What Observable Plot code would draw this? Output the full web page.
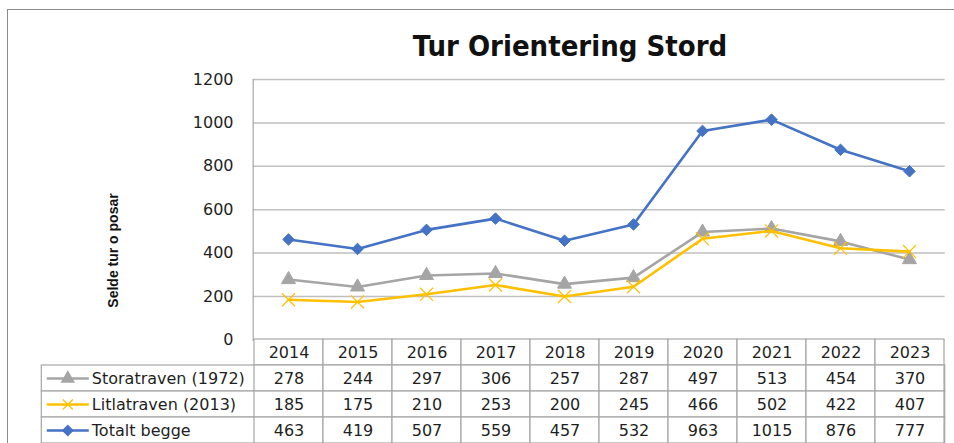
<!DOCTYPE html>
<html>
<head>
<meta charset="utf-8">
<script src="https://cdn.jsdelivr.net/npm/d3@7"></script>
<script src="https://cdn.jsdelivr.net/npm/@observablehq/plot@0.6"></script>
<style>
  html, body { margin: 0; padding: 0; background: white; }
  #wrap { position: relative; width: 954px; height: 443px; overflow: hidden; background: white; }
  #border { position: absolute; left: 7px; top: 9px; width: 1000px; height: 500px;
            border-top: 1.5px solid #8c8c8c; border-left: 1.5px solid #8c8c8c; }
  #title { position: absolute; left: 0; width: 1140px; top: 29px; text-align: center;
           font-family: "Liberation Sans Narrow", "DejaVu Sans Condensed", sans-serif; font-weight: bold;
           font-size: 29px; color: #111; white-space: nowrap; }
  .layer { position: absolute; left: 0; top: 0; }
</style>
</head>
<body>
<div id="wrap">
  <div id="border"></div>
  <div id="title">Tur Orientering Stord</div>
</div>
<script>
const years = ["2014","2015","2016","2017","2018","2019","2020","2021","2022","2023"];
const storatraven = [278,244,297,306,257,287,497,513,454,370];
const litlatraven = [185,175,210,253,200,245,466,502,422,407];
const totalt = [463,419,507,559,457,532,963,1015,876,777];
const seriesNames = ["Storatraven (1972)","Litlatraven (2013)","Totalt begge"];
const seriesValues = [storatraven, litlatraven, totalt];
const seriesColors = ["#A5A5A5","#FFC000","#4472C4"];
const seriesSymbols = ["triangle","times","diamond2"];
const yTicks = [0,200,400,600,800,1000,1200];
const yLabel = "Selde tur o posar";

const data = seriesNames.flatMap((s, si) =>
  years.map((y, i) => ({series: s, year: y, value: seriesValues[si][i]})));

const W = 954, H = 443;
const plotLeft = 252.7, plotRight = 944.7, plotTop = 79, plotBottom = 339.4;
const textColor = "#1f1f1f";

const seriesMarks = seriesNames.flatMap((s, si) => {
  const d = data.filter(r => r.series === s);
  const isStroke = seriesSymbols[si] === "times";
  return [
    Plot.line(d, {x: "year", y: "value", stroke: seriesColors[si], strokeWidth: 2.6}),
    Plot.dot(d, {x: "year", y: "value", symbol: seriesSymbols[si],
      r: isStroke ? 6 : 5.2,
      fill: isStroke ? "none" : seriesColors[si],
      stroke: seriesColors[si], strokeWidth: isStroke ? 1.2 : 1})
  ];
});

const main = Plot.plot({
  width: W, height: H,
  marginLeft: plotLeft, marginRight: W - plotRight, marginTop: plotTop, marginBottom: H - plotBottom,
  style: {fontFamily: "DejaVu Sans", fontSize: "16px", color: textColor, background: "transparent"},
  x: {type: "point", domain: years, padding: 0.5, axis: null},
  y: {domain: [0, 1200], axis: null},
  marks: [
    Plot.gridY(yTicks, {stroke: "#bfbfbf", strokeOpacity: 1, strokeWidth: 1.5}),
    Plot.axisY(yTicks, {tickSize: 0, tickPadding: plotLeft - 233, label: null, fontSize: 16,
      tickFormat: d => String(d)}),
    Plot.frame({anchor: "left", stroke: "#a6a6a6", strokeWidth: 1.2}),
    Plot.text([yLabel], {text: d => d, frameAnchor: "left", textAnchor: "middle",
      dx: -(plotLeft - 113), dy: 250 - (plotTop + plotBottom) / 2, rotate: -90,
      fontFamily: "Liberation Sans", fontWeight: "bold", fontSize: 14, fill: "#111"}),
    ...seriesMarks
  ]
});
main.classList.add("layer");

const rows = ["header", ...seriesNames];
const cellData = rows.flatMap(r => years.map(y => ({row: r, year: y})));
const valueData = seriesNames.flatMap((s, si) =>
  years.map((y, i) => ({row: s, year: y, text: String(seriesValues[si][i])})));

const hline = {draw(ctx) { ctx.moveTo(-21, 0); ctx.lineTo(21, 0); }};

const table = Plot.plot({
  width: W, height: H,
  marginLeft: 41.3, marginRight: W - plotRight, marginTop: plotBottom, marginBottom: 0,
  style: {fontFamily: "DejaVu Sans", fontSize: "16px", color: textColor, background: "transparent"},
  x: {type: "band", domain: years, range: [plotLeft, plotRight], padding: 0, axis: null},
  y: {type: "band", domain: rows, range: [plotBottom, plotBottom + 4 * 26], padding: 0, axis: null},
  marks: [
    Plot.cell(seriesNames, {y: d => d, fill: "white", stroke: "#a6a6a6", strokeWidth: 1.2, inset: 0}),
    Plot.cell(cellData, {x: "year", y: "row", fill: "white", stroke: "#a6a6a6", strokeWidth: 1.2, inset: 0}),
    Plot.text(years, {x: d => d, y: () => "header", text: d => d, fill: textColor, fontSize: 16}),
    Plot.text(valueData, {x: "year", y: "row", text: "text", fill: textColor, fontSize: 16}),
    Plot.dot(seriesNames, {y: d => d, frameAnchor: "left", dx: 26, symbol: hline,
      stroke: (d, i) => seriesColors[i], strokeWidth: 2.6, fill: "none", r: 5}),
    Plot.dot(seriesNames, {y: d => d, frameAnchor: "left", dx: 26,
      symbol: (d, i) => seriesSymbols[i], r: 4.6,
      fill: (d, i) => seriesSymbols[i] === "times" ? "none" : seriesColors[i],
      stroke: (d, i) => seriesColors[i], strokeWidth: 1.2}),
    Plot.text(seriesNames, {y: d => d, text: d => d, frameAnchor: "left", dx: 50,
      textAnchor: "start", fill: textColor, fontSize: 16})
  ]
});
table.classList.add("layer");

const wrap = document.getElementById("wrap");
wrap.appendChild(main);
wrap.appendChild(table);
</script>
</body>
</html>
